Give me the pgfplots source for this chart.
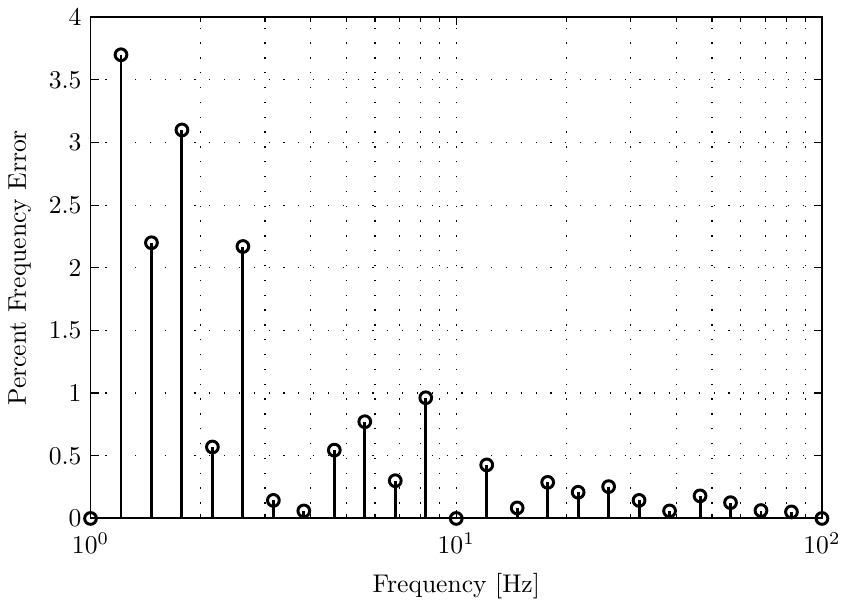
\documentclass[border=0pt]{standalone}
\usepackage{pgfplots}
\pgfplotsset{compat=1.18}

\begin{document}
\begin{tikzpicture}
  \begin{semilogxaxis}[
    scale only axis,
    width=286pt,
    height=196pt,
    xmin=1, xmax=100,
    ymin=0, ymax=4,
    xtick={1,10,100},
    ytick={0,0.5,1,1.5,2,2.5,3,3.5,4},
    yticklabels={0,0.5,1,1.5,2,2.5,3,3.5,4},
    xlabel={Frequency [Hz]},
    ylabel={Percent Frequency Error},
    x tick label style={yshift=-2pt},
    xlabel style={yshift=-1pt},
    grid=both,
    major grid style={black, line width=0.5pt, dash pattern=on 0.5pt off 5.3pt},
    minor grid style={black, line width=0.5pt, dash pattern=on 0.5pt off 5.3pt},
    tick align=inside,
    tick style={black, line width=0.5pt},
    major tick length=3.2pt,
    minor tick length=1.8pt,
    axis line style={line width=0.75pt},
    clip=false,
  ]
  \addplot[ycomb, black, line width=1.15pt, mark=o, mark size=2.3pt,
    mark options={line width=1.15pt}] coordinates {
    (1, 0)
    (1.2115, 3.70)
    (1.4678, 2.20)
    (1.7783, 3.10)
    (2.1544, 0.57)
    (2.6102, 2.17)
    (3.1623, 0.144)
    (3.8312, 0.06)
    (4.6416, 0.545)
    (5.6234, 0.772)
    (6.8129, 0.301)
    (8.2540, 0.963)
    (10, 0)
    (12.115, 0.427)
    (14.678, 0.084)
    (17.783, 0.288)
    (21.544, 0.209)
    (26.102, 0.254)
    (31.623, 0.144)
    (38.312, 0.06)
    (46.416, 0.18)
    (56.234, 0.126)
    (68.129, 0.063)
    (82.540, 0.052)
    (100, 0)
  };
  \end{semilogxaxis}
\end{tikzpicture}
\end{document}
